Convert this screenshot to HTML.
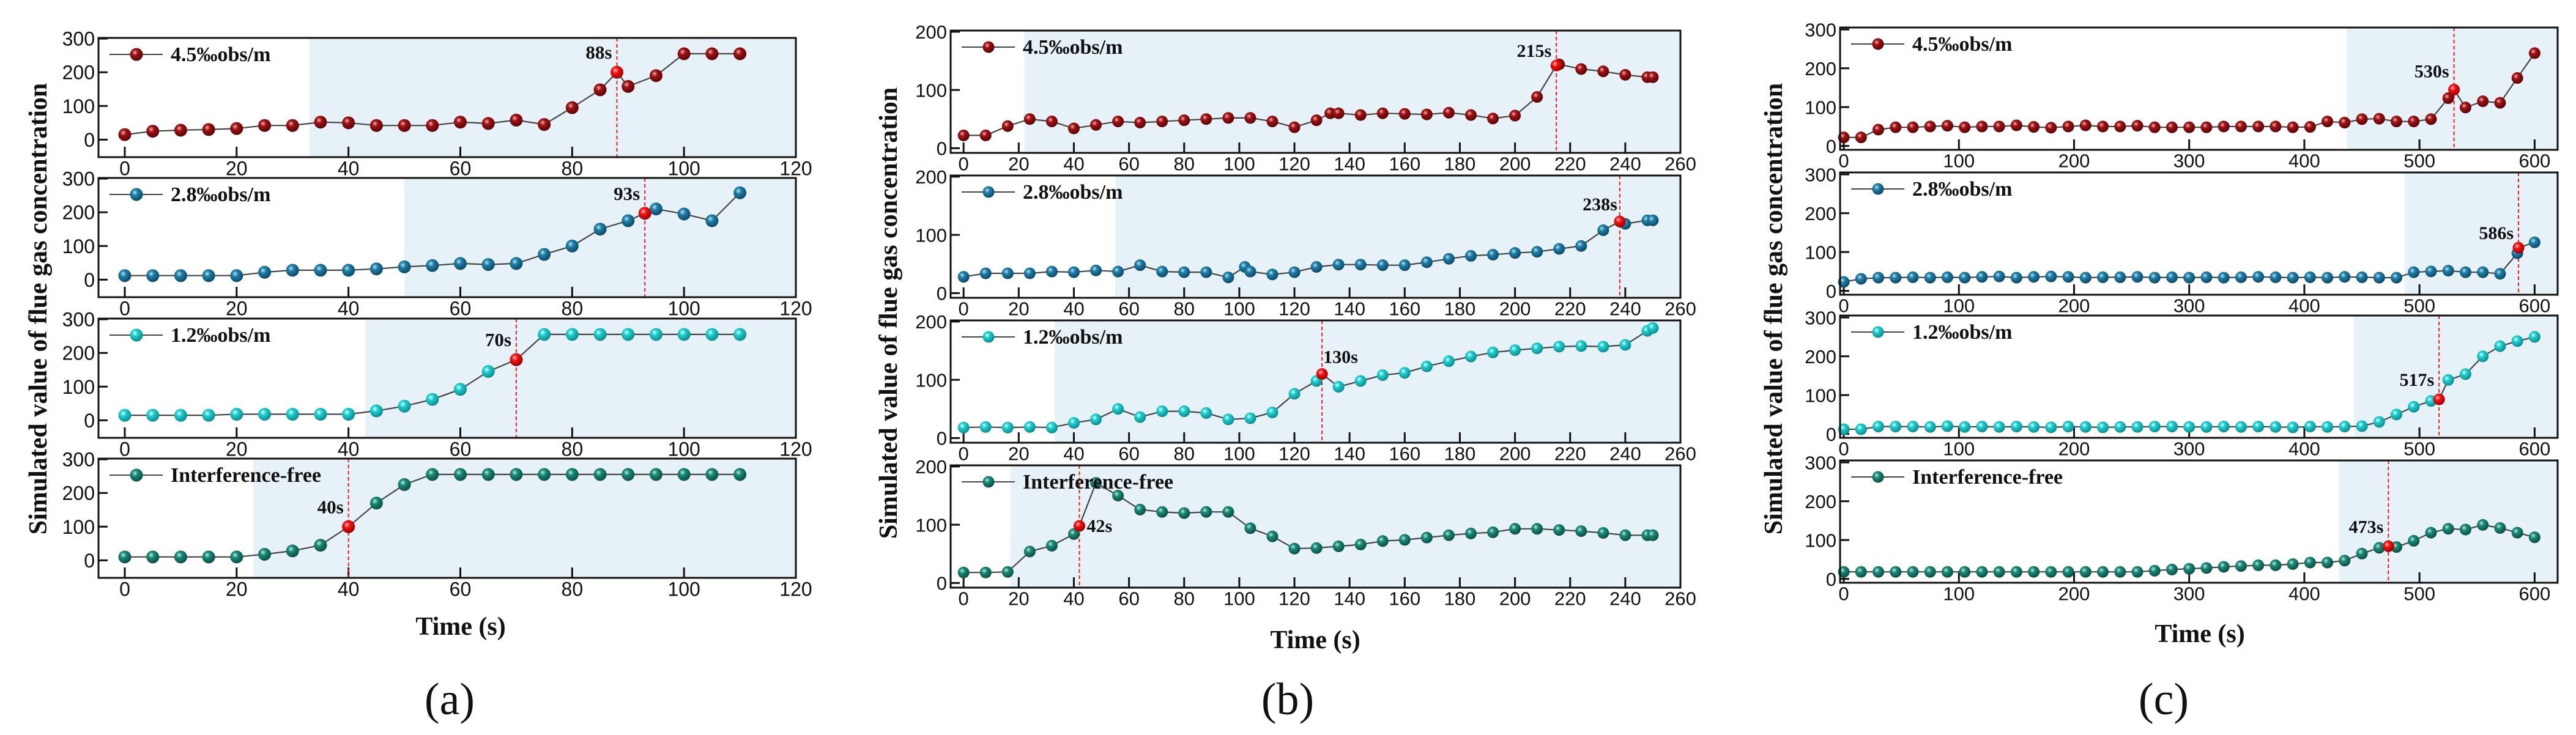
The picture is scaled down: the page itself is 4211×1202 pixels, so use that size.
<!DOCTYPE html>
<html><head><meta charset="utf-8"><style>
html,body{margin:0;padding:0;background:#fff;}
svg{display:block;}
</style></head><body>
<svg id="fig" xmlns="http://www.w3.org/2000/svg" width="4211" height="1202" viewBox="0 0 4211 1202">
<defs>
<radialGradient id="g0" cx="38%" cy="35%" r="65%"><stop offset="0%" stop-color="#f0b0b0"/><stop offset="35%" stop-color="#a01214"/><stop offset="100%" stop-color="#5a0508"/></radialGradient>
<radialGradient id="g1" cx="38%" cy="35%" r="65%"><stop offset="0%" stop-color="#b8e4f4"/><stop offset="35%" stop-color="#1f7fa8"/><stop offset="100%" stop-color="#0c4a66"/></radialGradient>
<radialGradient id="g2" cx="38%" cy="35%" r="65%"><stop offset="0%" stop-color="#d8ffff"/><stop offset="35%" stop-color="#1fcfcf"/><stop offset="100%" stop-color="#0d8c8f"/></radialGradient>
<radialGradient id="g3" cx="38%" cy="35%" r="65%"><stop offset="0%" stop-color="#b8ece0"/><stop offset="35%" stop-color="#1a8a78"/><stop offset="100%" stop-color="#0b4f44"/></radialGradient>
<radialGradient id="gr" cx="38%" cy="35%" r="65%"><stop offset="0%" stop-color="#ffc0c0"/><stop offset="35%" stop-color="#f41414"/><stop offset="100%" stop-color="#a00000"/></radialGradient>
</defs>
</svg>
<script>
// ---- data ----
const seriesNames = ["4.5‰obs/m","2.8‰obs/m","1.2‰obs/m","Interference-free"];
const aX = [0,5,10,15,20,25,30,35,40,45,50,55,60,65,70,75,80,85,90,95,100,105,110];
const a1Y = [15,25,28,30,33,42,42,52,50,42,42,42,52,48,58,45,95,148,158,190,255,255,255];
const a2Y = [12,12,12,12,12,22,28,28,28,32,38,42,48,45,48,75,100,150,175,210,195,175,258];
const a3Y = [15,15,15,15,18,18,18,18,18,28,42,62,92,145,180,255,255,255,255,255,255,255,255];
const a4Y = [10,10,10,10,10,18,28,45,100,170,225,255,255,255,255,255,255,255,255,255,255,255,255];
const aEventX = [88,93,70,40];
const aEventY = [200,197,180,100];
const aShade = [33,50,43,23];
const aXTicks = [0,20,40,60,80,100,120];
const aYTicks = [0,100,200,300];

const b1X = [0,8,16,24,32,40,48,56,64,72,80,88,96,104,112,120,128,133,136,144,152,160,168,176,184,192,200,208,216,224,232,240,248,250];
const b1Y = [22,22,38,50,46,34,40,46,44,46,48,50,52,52,46,36,48,60,60,57,60,59,58,61,57,51,56,88,144,136,132,126,122,122];
const b2X = [0,8,16,24,32,40,48,56,64,72,80,88,96,102,104,112,120,128,136,144,152,160,168,176,184,192,200,208,216,224,232,240,248,250];
const b2Y = [28,34,34,34,37,36,39,37,48,37,36,36,27,45,37,32,36,45,49,49,48,48,53,59,64,66,69,71,76,81,108,119,125,125];
const b3X = [0,8,16,24,32,40,48,56,64,72,80,88,96,104,112,120,128,136,144,152,160,168,176,184,192,200,208,216,224,232,240,248,250];
const b3Y = [18,19,18,19,18,26,32,50,36,46,46,43,32,34,44,76,98,88,98,108,112,123,132,140,147,151,154,157,158,157,160,184,189];
const b4X = [0,8,16,24,32,40,48,56,64,72,80,88,96,104,112,120,128,136,144,152,160,168,176,184,192,200,208,216,224,232,240,248,250];
const b4Y = [18,18,19,54,64,84,172,150,126,122,120,122,122,94,80,59,60,63,66,72,74,78,82,85,87,93,93,91,89,86,82,82,82];
const bEventX = [215,238,130,42];
const bEventY = [142,123,110,98];
const bShade = [22,55,33,17];
const bXTicks = [0,20,40,60,80,100,120,140,160,180,200,220,240,260];
const bYTicks = [0,100,200];

const cX = [0,15,30,45,60,75,90,105,120,135,150,165,180,195,210,225,240,255,270,285,300,315,330,345,360,375,390,405,420,435,450,465,480,495,510,525,540,555,570,585,600];
const c1Y = [22,22,42,48,48,50,52,48,50,50,53,49,47,50,53,50,50,52,48,48,48,48,50,50,50,50,48,49,63,60,69,70,63,63,69,123,99,115,111,175,239];
const c2Y = [23,31,34,34,35,34,35,34,36,37,34,36,37,36,34,35,35,36,34,35,34,35,34,35,36,35,34,35,34,36,35,34,34,48,50,52,48,48,44,97,125];
const c3Y = [12,12,19,19,19,18,20,18,19,18,19,18,17,19,18,17,18,18,19,19,18,18,19,18,19,18,17,19,18,19,20,31,50,70,85,139,154,200,226,239,250];
const c4Y = [18,18,18,18,18,18,18,18,18,18,18,18,18,18,18,18,18,18,21,24,26,28,31,33,35,35,38,42,42,47,65,80,82,98,119,129,127,139,131,119,107];
const cEventX = [530,586,517,473];
const cEventY = [145,111,89,84];
const cShade = [437,487,443,430];
const cXTicks = [0,100,200,300,400,500,600];
const cYTicks = [0,100,200,300];

// ---- layout (not data) ----
const figs = [
 {id:"a", l:161, r:1301, tops:[62,291,521,750], h:195, xd:[-4.7,120], yd:[-52,302], r0:10.5, fs:32, lab:"(a)", labX:735, tx:753, ty:1024, ytx:62, ytc:505,
  xs:[aX,aX,aX,aX], ys:[a1Y,a2Y,a3Y,a4Y], ex:aEventX, ey:aEventY, sh:aShade, xt:aXTicks, yt:aYTicks,
  lblPos:[["end",-8,-22],["end",-8,-22],["end",-8,-22],["end",-8,-22]]},
 {id:"b", l:1554, r:2747, tops:[50,287,524,761], h:200, xd:[-4.7,260], yd:[-8,202], r0:9.5, fs:31, lab:"(b)", labX:2105, tx:2150, ty:1046, ytx:1452, ytc:512,
  xs:[b1X,b2X,b3X,b4X], ys:[b1Y,b2Y,b3Y,b4Y], ex:bEventX, ey:bEventY, sh:bShade, xt:bXTicks, yt:bYTicks,
  lblPos:[["end",-8,-14],["end",-4,-18],["start",2,-18],["start",12,10]]},
 {id:"c", l:3008, r:4181, tops:[45,282,516,753], h:200, xd:[-3.2,620], yd:[-10,305], r0:9.5, fs:31, lab:"(c)", labX:3537, tx:3596, ty:1036, ytx:2899, ytc:505,
  xs:[cX,cX,cX,cX], ys:[c1Y,c2Y,c3Y,c4Y], ex:cEventX, ey:cEventY, sh:cShade, xt:cXTicks, yt:cYTicks,
  lblPos:[["end",-8,-20],["end",-8,-14],["end",-8,-22],["end",-8,-22]]}
];

const NS = "http://www.w3.org/2000/svg";
const svg = document.getElementById("fig");
function mk(tag, attrs, parent){
  const e = document.createElementNS(NS, tag);
  for (const k in attrs) e.setAttribute(k, attrs[k]);
  (parent||svg).appendChild(e);
  return e;
}
const grads = ["url(#g0)","url(#g1)","url(#g2)","url(#g3)"];

figs.forEach(f => {
  const fg = mk("g", {});
  
  
  f.tops.forEach((t, i) => {
    const b = t + f.h;
    const sx = v => f.l + (v - f.xd[0]) / (f.xd[1] - f.xd[0]) * (f.r - f.l);
    const sy = v => b - (v - f.yd[0]) / (f.yd[1] - f.yd[0]) * f.h;
    const g = mk("g", {}, fg);
    
    
    const sh = mk("rect", {x: sx(f.sh[i]), y: t, width: f.r - sx(f.sh[i]), height: f.h, fill: "#e6f2f7"}, g);
    
    
    f.yt.forEach(v => {
      const y = sy(v);
      mk("line", {x1: f.l, x2: f.l + 15, y1: y, y2: y, stroke: "#111", "stroke-width": 3}, g);
      const tl = mk("text", {x: f.l - 6, y: y + f.fs*0.36, "text-anchor": "end", "font-family": "Liberation Sans, sans-serif", "font-size": f.fs, fill: "#111"}, g);
      tl.textContent = v;
      
      
    });
    f.xt.forEach(v => {
      const x = sx(v);
      if (x < f.r - 2) mk("line", {x1: x, x2: x, y1: b, y2: b - 17, stroke: "#111", "stroke-width": 3}, g);
      const tl = mk("text", {x: x, y: b + f.fs*0.92, "text-anchor": "middle", "font-family": "Liberation Sans, sans-serif", "font-size": f.fs, fill: "#111"}, g);
      tl.textContent = v;
      
      
    });
    const ex = sx(f.ex[i]);
    const dl = mk("line", {x1: ex, x2: ex, y1: t, y2: b, stroke: "#f02020", "stroke-width": 2, "stroke-dasharray": "6,4"}, g);
    
    
    const pts = f.xs[i].map((x, k) => [x, f.ys[i][k]]);
    pts.push([f.ex[i], f.ey[i]]);
    pts.sort((p, q) => p[0] - q[0]);
    const d = pts.map((p, k) => (k ? "L" : "M") + sx(p[0]).toFixed(1) + "," + sy(p[1]).toFixed(1)).join(" ");
    const ln = mk("path", {d: d, fill: "none", stroke: "#444", "stroke-width": 2.2}, g);
    
    
    f.xs[i].forEach((x, k) => {
      const c = mk("circle", {cx: sx(x), cy: sy(f.ys[i][k]), r: f.r0, fill: grads[i]}, g);
      
      
    });
    const ec = mk("circle", {cx: ex, cy: sy(f.ey[i]), r: f.r0, fill: "url(#gr)"}, g);
    
    
    const lp = f.lblPos[i];
    const el = mk("text", {x: ex + lp[1], y: sy(f.ey[i]) + lp[2], "text-anchor": lp[0], "font-family": "Liberation Serif, serif", "font-weight": "bold", "font-size": f.fs - 1, fill: "#111"}, g);
    el.textContent = f.ex[i] + "s";
    
    
    const ly = t + 27;
    const lg = mk("g", {}, g);
    
    
    mk("line", {x1: f.l + 18, x2: f.l + 105, y1: ly, y2: ly, stroke: "#444", "stroke-width": 2}, lg);
    mk("circle", {cx: f.l + 62, cy: ly, r: f.r0, fill: grads[i]}, lg);
    const lt = mk("text", {x: f.l + 118, y: ly + 11, "font-family": "Liberation Serif, serif", "font-weight": "bold", "font-size": 34, fill: "#111"}, lg);
    lt.textContent = seriesNames[i];
    const fr = mk("rect", {x: f.l, y: t, width: f.r - f.l, height: f.h, fill: "none", stroke: "#111", "stroke-width": 3}, g);
    
    
  });
  const xt = mk("text", {x: f.tx, y: f.ty + 14, "text-anchor": "middle", "font-family": "Liberation Serif, serif", "font-weight": "bold", "font-size": 42, fill: "#111"}, fg);
  xt.textContent = "Time (s)";
  
  
  const yt = mk("text", {x: f.ytx, y: f.ytc, "text-anchor": "middle", transform: "rotate(-90 " + (f.ytx) + " " + f.ytc + ")", dy: 14, "font-family": "Liberation Serif, serif", "font-weight": "bold", "font-size": 42, fill: "#111"}, fg);
  yt.textContent = "Simulated value of flue gas concentration";
  
  
  const pl = mk("text", {x: f.labX, y: 1168, "text-anchor": "middle", "font-family": "Liberation Serif, serif", "font-size": 74, fill: "#111"}, fg);
  pl.textContent = f.lab;
  
  
});
</script>
</body></html>
